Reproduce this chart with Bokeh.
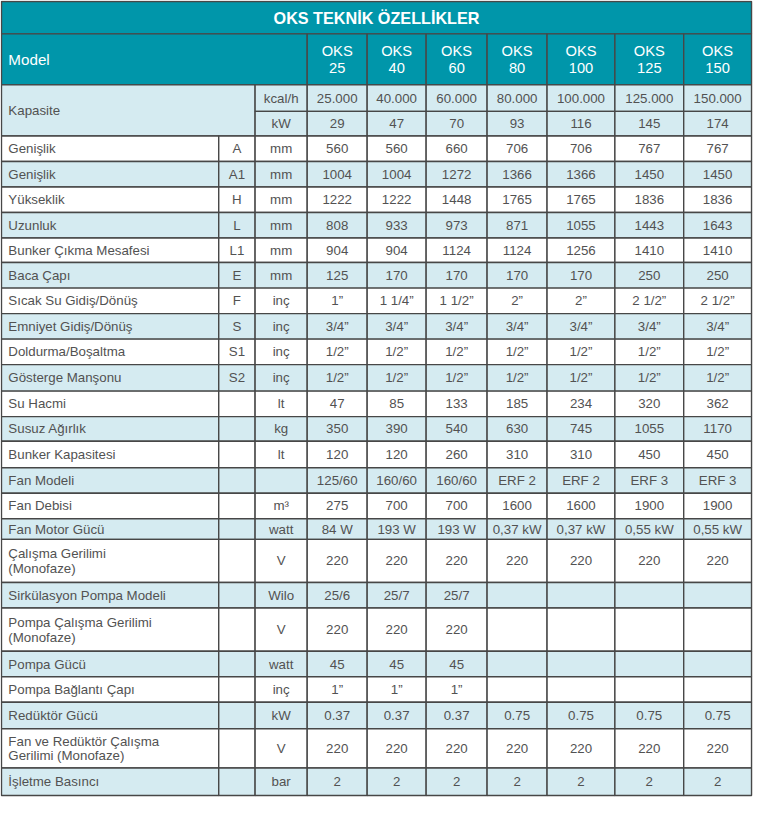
from bokeh.plotting import figure
from bokeh.models import ColumnDataSource, Range1d
from bokeh.embed import file_html
from bokeh.resources import INLINE
from bokeh.core.properties import value

# ---------------- data ----------------
title_text = "OKS TEKNİK ÖZELLİKLER"
model_label = "Model"
model_prefix = "OKS"
model_numbers = ["25", "40", "60", "80", "100", "125", "150"]

capacity_label = "Kapasite"
capacity_units = ["kcal/h", "kW"]
capacity_kcal = ["25.000", "40.000", "60.000", "80.000", "100.000", "125.000", "150.000"]
capacity_kw = ["29", "47", "70", "93", "116", "145", "174"]

spec_labels = ["Genişlik", "Genişlik", "Yükseklik", "Uzunluk", "Bunker Çıkma Mesafesi",
               "Baca Çapı", "Sıcak Su Gidiş/Dönüş", "Emniyet Gidiş/Dönüş",
               "Doldurma/Boşaltma", "Gösterge Manşonu", "Su Hacmi", "Susuz Ağırlık",
               "Bunker Kapasitesi", "Fan Modeli", "Fan Debisi", "Fan Motor Gücü",
               "Çalışma Gerilimi\n(Monofaze)", "Sirkülasyon Pompa Modeli",
               "Pompa Çalışma Gerilimi\n(Monofaze)", "Pompa Gücü", "Pompa Bağlantı Çapı",
               "Redüktör Gücü", "Fan ve Redüktör Çalışma\nGerilimi (Monofaze)",
               "İşletme Basıncı"]
spec_codes = ["A", "A1", "H", "L", "L1", "E", "F", "S", "S1", "S2",
              "", "", "", "", "", "", "", "", "", "", "", "", "", ""]
spec_units = ["mm", "mm", "mm", "mm", "mm", "mm", "inç", "inç", "inç", "inç",
              "lt", "kg", "lt", "", "m³", "watt", "V", "Wilo", "V", "watt", "inç",
              "kW", "V", "bar"]

v_genislik_a = ["560", "560", "660", "706", "706", "767", "767"]
v_genislik_a1 = ["1004", "1004", "1272", "1366", "1366", "1450", "1450"]
v_yukseklik = ["1222", "1222", "1448", "1765", "1765", "1836", "1836"]
v_uzunluk = ["808", "933", "973", "871", "1055", "1443", "1643"]
v_bunker_mesafe = ["904", "904", "1124", "1124", "1256", "1410", "1410"]
v_baca = ["125", "170", "170", "170", "170", "250", "250"]
v_sicak_su = ["1”", "1 1/4”", "1 1/2”", "2”", "2”", "2 1/2”", "2 1/2”"]
v_emniyet = ["3/4”", "3/4”", "3/4”", "3/4”", "3/4”", "3/4”", "3/4”"]
v_doldurma = ["1/2”", "1/2”", "1/2”", "1/2”", "1/2”", "1/2”", "1/2”"]
v_gosterge = ["1/2”", "1/2”", "1/2”", "1/2”", "1/2”", "1/2”", "1/2”"]
v_su_hacmi = ["47", "85", "133", "185", "234", "320", "362"]
v_susuz = ["350", "390", "540", "630", "745", "1055", "1170"]
v_bunker_kap = ["120", "120", "260", "310", "310", "450", "450"]
v_fan_modeli = ["125/60", "160/60", "160/60", "ERF 2", "ERF 2", "ERF 3", "ERF 3"]
v_fan_debisi = ["275", "700", "700", "1600", "1600", "1900", "1900"]
v_fan_motor = ["84 W", "193 W", "193 W", "0,37 kW", "0,37 kW", "0,55 kW", "0,55 kW"]
v_calisma = ["220", "220", "220", "220", "220", "220", "220"]
v_pompa_model = ["25/6", "25/7", "25/7", "", "", "", ""]
v_pompa_gerilim = ["220", "220", "220", "", "", "", ""]
v_pompa_guc = ["45", "45", "45", "", "", "", ""]
v_pompa_baglanti = ["1”", "1”", "1”", "", "", "", ""]
v_reduktor = ["0.37", "0.37", "0.37", "0.75", "0.75", "0.75", "0.75"]
v_fan_red_gerilim = ["220", "220", "220", "220", "220", "220", "220"]
v_isletme = ["2", "2", "2", "2", "2", "2", "2"]

spec_values = [v_genislik_a, v_genislik_a1, v_yukseklik, v_uzunluk, v_bunker_mesafe,
               v_baca, v_sicak_su, v_emniyet, v_doldurma, v_gosterge, v_su_hacmi,
               v_susuz, v_bunker_kap, v_fan_modeli, v_fan_debisi, v_fan_motor,
               v_calisma, v_pompa_model, v_pompa_gerilim, v_pompa_guc,
               v_pompa_baglanti, v_reduktor, v_fan_red_gerilim, v_isletme]

# ---------------- layout ----------------
col_edges = [1, 222, 259, 312, 373, 433, 495, 556, 625, 695, 764]
row_edges = [1, 34, 86, 113, 138, 164, 190, 216, 242, 267, 293, 319, 345, 371, 398,
             424, 449, 476, 502, 528, 549, 593, 619, 663, 689, 715, 742, 782, 810]

TEAL = "#0096aa"
LIGHT = "#d5ebf1"
WHITE = "#ffffff"
BORDER = "#474747"
TXT = "#525252"
FONT = "Liberation Sans"

W, H = 753, 797
XR, YR = 766, 812
fs = min(W / XR, H / YR)

cells = dict(x0=[], x1=[], y0=[], y1=[], fill=[])


def add_cell(x0, x1, y0, y1, fill):
    cells["x0"].append(x0)
    cells["x1"].append(x1)
    cells["y0"].append(y0)
    cells["y1"].append(y1)
    cells["fill"].append(fill)


groups = {k: dict(x=[], y=[], text=[]) for k in
          ["title", "head_left", "head_center", "body_left", "body_center"]}


def add_text(group, x, y, txt, spacing):
    lines = txt.split("\n")
    n = len(lines)
    for i, ln in enumerate(lines):
        groups[group]["x"].append(x)
        groups[group]["y"].append(y + (i - (n - 1) / 2) * spacing)
        groups[group]["text"].append(ln)


left_pad = 7
val_cols = col_edges[3:]

# title
add_cell(col_edges[0], col_edges[-1], row_edges[0], row_edges[1], TEAL)
add_text("title", (col_edges[0] + col_edges[-1]) / 2, (row_edges[0] + row_edges[1]) / 2, title_text, 18)

# model header
ymid = (row_edges[1] + row_edges[2]) / 2
add_cell(col_edges[0], col_edges[3], row_edges[1], row_edges[2], TEAL)
add_text("head_left", col_edges[0] + left_pad, ymid, model_label, 18)
for j, num in enumerate(model_numbers):
    add_cell(val_cols[j], val_cols[j + 1], row_edges[1], row_edges[2], TEAL)
    add_text("head_center", (val_cols[j] + val_cols[j + 1]) / 2, ymid, model_prefix + "\n" + num, 18)

# capacity
add_cell(col_edges[0], col_edges[2], row_edges[2], row_edges[4], LIGHT)
add_text("body_left", col_edges[0] + left_pad, (row_edges[2] + row_edges[4]) / 2, capacity_label, 15)
for k, (unit, vals) in enumerate(zip(capacity_units, [capacity_kcal, capacity_kw])):
    y0, y1 = row_edges[2 + k], row_edges[3 + k]
    add_cell(col_edges[2], col_edges[3], y0, y1, LIGHT)
    add_text("body_center", (col_edges[2] + col_edges[3]) / 2, (y0 + y1) / 2, unit, 15)
    for j, v in enumerate(vals):
        add_cell(val_cols[j], val_cols[j + 1], y0, y1, LIGHT)
        add_text("body_center", (val_cols[j] + val_cols[j + 1]) / 2, (y0 + y1) / 2, v, 15)

# spec rows
for r, (lab, code, unit, vals) in enumerate(zip(spec_labels, spec_codes, spec_units, spec_values)):
    y0, y1 = row_edges[4 + r], row_edges[5 + r]
    ym = (y0 + y1) / 2
    fill = WHITE if r % 2 == 0 else LIGHT
    add_cell(col_edges[0], col_edges[1], y0, y1, fill)
    add_text("body_left", col_edges[0] + left_pad, ym, lab, 15)
    add_cell(col_edges[1], col_edges[2], y0, y1, fill)
    if code:
        add_text("body_center", (col_edges[1] + col_edges[2]) / 2, ym, code, 15)
    add_cell(col_edges[2], col_edges[3], y0, y1, fill)
    if unit:
        add_text("body_center", (col_edges[2] + col_edges[3]) / 2, ym, unit, 15)
    for j, v in enumerate(vals):
        add_cell(val_cols[j], val_cols[j + 1], y0, y1, fill)
        if v:
            add_text("body_center", (val_cols[j] + val_cols[j + 1]) / 2, ym, v, 15)

# ---------------- figure ----------------
p = figure(width=W, height=H, x_range=Range1d(0, XR), y_range=Range1d(YR, 0),
           output_backend="svg", toolbar_location=None, min_border=0)
p.axis.visible = False
p.grid.visible = False
p.outline_line_color = None
p.background_fill_color = WHITE
p.border_fill_color = WHITE

p.quad(left="x0", right="x1", top="y0", bottom="y1", fill_color="fill",
       line_color=BORDER, line_width=1.4, source=ColumnDataSource(cells))

styles = {
    "title": dict(size=16.5, color=WHITE, style="bold", align="center"),
    "head_left": dict(size=15.5, color=WHITE, style="normal", align="left"),
    "head_center": dict(size=15, color=WHITE, style="normal", align="center"),
    "body_left": dict(size=13.5, color=TXT, style="normal", align="left"),
    "body_center": dict(size=13.5, color=TXT, style="normal", align="center"),
}
for g, st in styles.items():
    p.text(x="x", y="y", text="text", source=ColumnDataSource(groups[g]),
           text_font=value(FONT), text_font_size=f"{st['size'] * fs:.1f}px",
           text_font_style=st["style"], text_color=st["color"],
           text_align=st["align"], text_baseline="middle")

open("out.html", "w").write(file_html(p, INLINE))
